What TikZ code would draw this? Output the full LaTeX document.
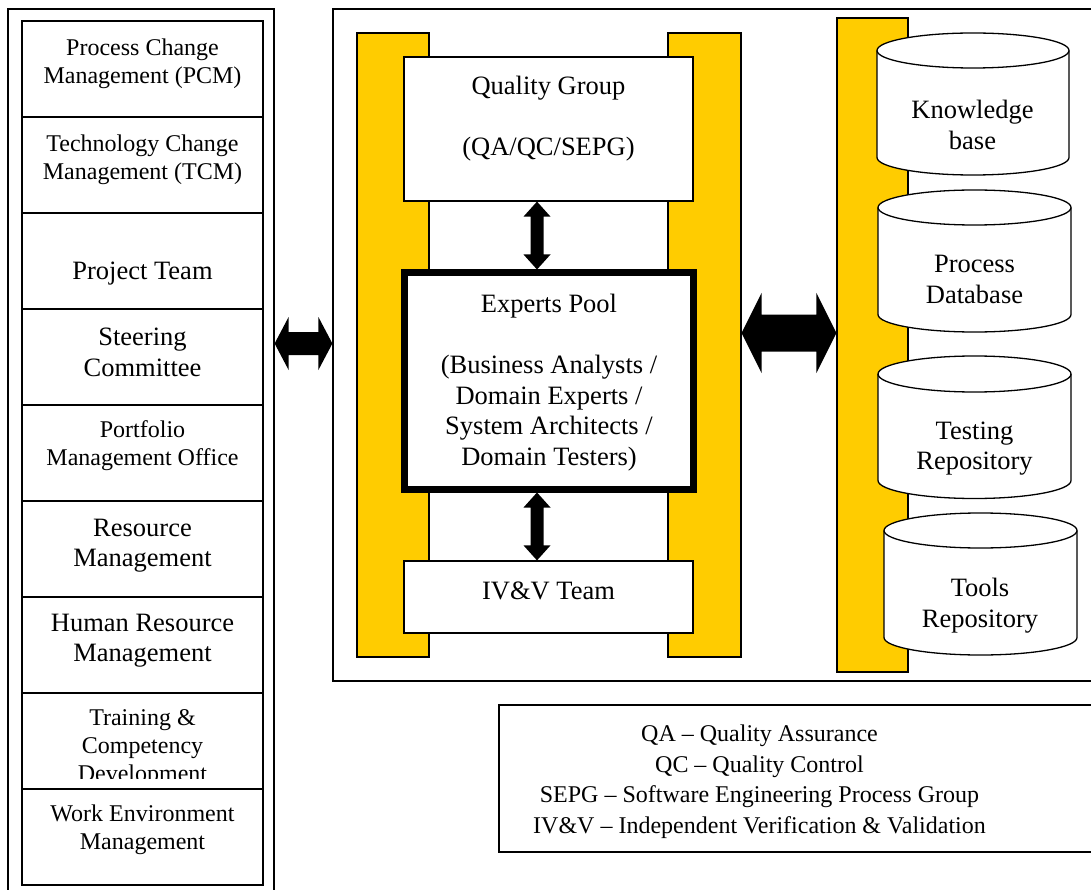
\documentclass[tikz,border=0pt]{standalone}
\usepackage{fontspec}
\setmainfont{Liberation Serif}
\usetikzlibrary{calc}
\definecolor{barY}{HTML}{FFCC00}
\tikzset{
  box/.style={draw, line width=1.2pt, inner sep=0pt, fill=white},
  row/.style={draw, line width=1.5pt, inner sep=0pt, minimum width=241pt, minimum height=96pt},
  bar/.style={draw, line width=1.2pt, fill=barY, inner sep=0pt},
  txtB/.style={align=center, inner sep=0pt, yshift=-2.5pt, font=\fontsize{26.5}{30.5}\selectfont},
  txtS/.style={align=center, inner sep=0pt, yshift=-2.5pt, font=\fontsize{24}{28}\selectfont},
  cylb/.style={draw, line width=1.3pt, fill=white},
}
\newcommand\vdarrow[6]{% from, to, x, shaft half, head half, head length
  \fill let \p1=(#1), \p2=(#2) in
    (#3,\y1) -- ({#3+#5},{\y1-#6}) -- ({#3+#4},{\y1-#6}) -- ({#3+#4},{\y2+#6}) -- ({#3+#5},{\y2+#6})
    -- (#3,\y2) -- ({#3-#5},{\y2+#6}) -- ({#3-#4},{\y2+#6}) -- ({#3-#4},{\y1-#6}) -- ({#3-#5},{\y1-#6}) -- cycle;}
\newcommand\hdarrow[6]{% from, to, y, shaft half, head half, head length
  \fill let \p1=(#1), \p2=(#2) in
    (\x1,#3) -- ({\x1+#6},{#3+#5}) -- ({\x1+#6},{#3+#4}) -- ({\x2-#6},{#3+#4}) -- ({\x2-#6},{#3+#5})
    -- (\x2,#3) -- ({\x2-#6},{#3-#5}) -- ({\x2-#6},{#3-#4}) -- ({\x1+#6},{#3-#4}) -- ({\x1+#6},{#3-#5}) -- cycle;}
\newcommand\cyl[5]{% cx, top, bottom, rx, ry
  \draw[cylb] ({#1-#4},#2) -- ({#1-#4},#3) arc[start angle=180, end angle=360, x radius=#4pt, y radius=#5pt]
    -- ({#1+#4},#2) arc[start angle=0, end angle=180, x radius=#4pt, y radius=#5pt] -- cycle;
  \draw[line width=1.3pt] ({#1-#4},#2) arc[start angle=180, end angle=360, x radius=#4pt, y radius=#5pt];}
\begin{document}
\begin{tikzpicture}[x=1pt, y=-1pt]
\useasboundingbox (0,0) rectangle (1091,890);
% left block
\node[box, minimum width=266pt, minimum height=886pt] (leftbox) at (141,452) {};
\node[row] (r1) at (142.5,69) {};
\node[row] (r2) at (142.5,165) {};
\node[row] (r3) at (142.5,261) {};
\node[row] (r4) at (142.5,357) {};
\node[row] (r5) at (142.5,453) {};
\node[row] (r6) at (142.5,549) {};
\node[row] (r7) at (142.5,645) {};
\node[row] (r8) at (142.5,741) {};
\node[row] (r9) at (142.5,837) {};
\node[txtS] (t1) at (142.5,61) {Process Change\\Management (PCM)};
\node[txtS] (t2) at (142.5,157) {Technology Change\\Management (TCM)};
\node[txtB] (t3) at (142.5,271) {Project Team};
\node[txtB] (t4) at (142.5,350) {Steering\\Committee};
\node[txtS] (t5) at (142.5,443) {Portfolio\\Management Office};
\node[txtB] (t6) at (142.5,543) {Resource\\Management};
\node[txtB] (t7) at (142.5,638) {Human Resource\\Management};
\begin{scope}
\clip (22,693) rectangle (263,778);
\node[txtS] (t8) at (142.5,745.5) {Training \&\\Competency\\Development};
\end{scope}
\node[txtS] (t9) at (142.5,827.5) {Work Environment\\Management};
% middle block
\node[box, minimum width=767pt, minimum height=672pt] (midbox) at (716.5,345) {};
\node[bar, minimum width=72pt, minimum height=624pt] (bar1) at (393,345) {};
\node[bar, minimum width=73pt, minimum height=624pt] (bar2) at (704.5,345) {};
\node[bar, minimum width=71pt, minimum height=654pt] (bar3) at (872.5,345) {};
\node[box, minimum width=289pt, minimum height=144pt] (qg) at (548.5,129) {};
\node[txtB] (qgt) at (548.5,116) {Quality Group\\[30.5pt](QA/QC/SEPG)};
\node[draw, line width=7pt, fill=white, inner sep=0pt, minimum width=289pt, minimum height=216pt] (ep) at (549,381) {};
\node[txtB] (ept) at (549,380) {Experts Pool\\[30.5pt](Business Analysts /\\Domain Experts /\\System Architects /\\Domain Testers)};
\node[box, minimum width=289pt, minimum height=72pt] (ivv) at (548.5,597) {};
\node[txtB] (ivvt) at (548.5,588) {IV\&V Team};
% cylinders
\cyl{973}{50.5}{157.5}{96}{17.5}
\cyl{974.5}{207.5}{314.5}{96.5}{17.5}
\cyl{974.5}{374}{480.5}{96.5}{18}
\cyl{980.5}{530.5}{637.5}{96.5}{17.5}
\node[txtB] (kb) at (972.5,122.5) {Knowledge\\base};
\node[txtB] (pd) at (974.5,277) {Process\\Database};
\node[txtB] (tr) at (974.5,446) {Testing\\Repository};
\node[txtB] (tl) at (980,603) {Tools\\Repository};
% arrows
\hdarrow{leftbox.east}{midbox.west}{-343.5pt}{11.5pt}{26.5pt}{14pt}
\hdarrow{bar2.east}{bar3.west}{-333pt}{18.5pt}{40pt}{20pt}
\vdarrow{qg.south}{ep.north}{537pt}{6.5pt}{13.5pt}{15pt}
\vdarrow{ep.south}{ivv.north}{537pt}{6.5pt}{13.5pt}{15pt}
% legend
\node[box, minimum width=601pt, minimum height=147pt] (legend) at (799.5,778.5) {};
\node[txtS, font=\fontsize{24}{30.5}\selectfont] (legt) at (759.5,779) {QA -- Quality Assurance\\QC -- Quality Control\\SEPG -- Software Engineering Process Group\\IV\&V -- Independent Verification \& Validation};
\end{tikzpicture}
\end{document}
